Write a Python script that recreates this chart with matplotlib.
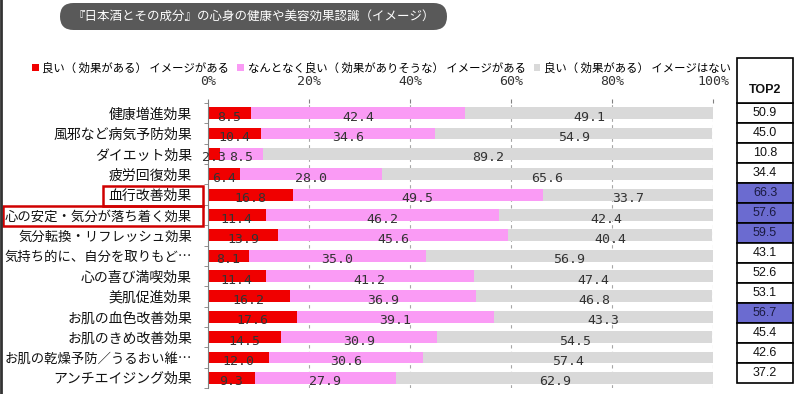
import matplotlib
matplotlib.use('Agg')
import matplotlib.pyplot as plt
import numpy as np
from matplotlib.patches import Rectangle, FancyBboxPatch
from matplotlib.lines import Line2D
from matplotlib.transforms import IdentityTransform

plt.rcParams['font.family'] = ['Noto Sans CJK JP', 'DejaVu Sans']

# データ
labels = ['健康増進効果', '風邪など病気予防効果', 'ダイエット効果', '疲労回復効果',
          '血行改善効果', '心の安定・気分が落ち着く効果', '気分転換・リフレッシュ効果',
          '気持ち的に、自分を取りもど…', '心の喜び満喫効果', '美肌促進効果',
          'お肌の血色改善効果', 'お肌のきめ改善効果', 'お肌の乾燥予防／うるおい維…',
          'アンチエイジング効果']
good = [8.5, 10.4, 2.3, 6.4, 16.8, 11.4, 13.9, 8.1, 11.4, 16.2, 17.6, 14.5, 12.0, 9.3]
maybe = [42.4, 34.6, 8.5, 28.0, 49.5, 46.2, 45.6, 35.0, 41.2, 36.9, 39.1, 30.9, 30.6, 27.9]
none_ = [49.1, 54.9, 89.2, 65.6, 33.7, 42.4, 40.4, 56.9, 47.4, 46.8, 43.3, 54.5, 57.4, 62.9]
top2 = [50.9, 45.0, 10.8, 34.4, 66.3, 57.6, 59.5, 43.1, 52.6, 53.1, 56.7, 45.4, 42.6, 37.2]
top2_highlight = [4, 5, 6, 10]
boxed_labels = [4, 5]
series_names = ['良い（ 効果がある） イメージがある',
                'なんとなく良い（ 効果がありそうな） イメージがある',
                '良い（ 効果がある） イメージはない']
colors = ['#F00000', '#FA9BF5', '#D9D9D9']
title = '『日本酒とその成分』の心身の健康や美容効果認識（イメージ）'

W, H = 800, 394
fig = plt.figure(figsize=(W / 100, H / 100), dpi=100)

# メイングラフ
ax = fig.add_axes([208 / W, 1 - 388 / H, (713 - 208) / W, (388 - 103) / H])
y = np.arange(len(labels))
good = np.array(good)
maybe = np.array(maybe)
none_ = np.array(none_)

lefts = [np.zeros(len(y)), good, good + maybe]
handles = []
for vals, left, c, name in zip([good, maybe, none_], lefts, colors, series_names):
    b = ax.barh(y, vals, left=left, height=0.58, color=c, label=name, zorder=2)
    handles.append(b)
    for yi, v, l in zip(y, vals, left):
        ax.text(l + v / 2, yi + 0.2, f'{v:.1f}', ha='center', va='center',
                fontsize=9.5, family='DejaVu Sans Mono', color='#333333', zorder=3)

ax.set_xlim(0, 100)
ax.set_ylim(len(y) - 0.5, -0.5)
ax.xaxis.tick_top()
ax.set_xticks(range(0, 101, 20), [f'{v}%' for v in range(0, 101, 20)])
ax.tick_params(axis='x', length=3, pad=7.5, color='#808080', labelcolor='#333333')
for t in ax.get_xticklabels():
    t.set_family('DejaVu Sans Mono')
    t.set_fontsize(9.5)
ax.set_yticks(y, labels)
ax.set_yticks(np.arange(len(y) + 1) - 0.5, minor=True)
ax.tick_params(axis='y', which='major', length=0, pad=11.5, labelsize=10, labelcolor='#111111')
ax.tick_params(axis='y', which='minor', length=3, color='#808080')
for i, t in enumerate(ax.get_yticklabels()):
    if len(labels[i]) >= 13:
        t.set_fontsize(9.6)
for s in ['top', 'right', 'bottom']:
    ax.spines[s].set_visible(False)
ax.spines['left'].set_color('#808080')
ax.grid(axis='x', linestyle=(0, (3, 3)), color='#A6A6A6', lw=0.8, zorder=0)
ax.set_axisbelow(True)

# 凡例
fig.legend(handles=handles, loc='center', bbox_to_anchor=((35 + 728) / 2 / W, 1 - 68 / H),
           ncol=3, frameon=False, fontsize=8.2, handlelength=0.6, handleheight=0.6,
           handletextpad=0.3, columnspacing=0.7, borderpad=0, borderaxespad=0)

# TOP2 表
tax = fig.add_axes([737 / W, 1 - 383 / H, 56 / W, 280 / H])
tax.set_xlim(0, 1)
tax.set_ylim(len(y) - 0.5, -0.5)
tax.axis('off')
for i, v in enumerate(top2):
    hl = i in top2_highlight
    tax.add_patch(Rectangle((0, i - 0.5), 1, 1, fc='#6B6BD0' if hl else 'white',
                            ec='black', lw=1.2, clip_on=False))
    tax.text(0.5, i + 0.02, f'{v:.1f}', ha='center', va='center', fontsize=9,
             family='Liberation Sans', color='#1A1A40' if hl else '#111111')
tax.add_patch(Rectangle((0, 1), 1, 45 / 280, transform=tax.transAxes, fc='white',
                        ec='black', lw=1.2, clip_on=False))
tax.text(0.5, 1 + 13 / 280, 'TOP2', transform=tax.transAxes, ha='center', va='center',
         fontsize=9, family='Liberation Sans', fontweight='bold', color='#111111')

# タイトル
fig.patches.append(FancyBboxPatch((60, H - 30), 387, 27,
                                  boxstyle='round,pad=0,rounding_size=13.5',
                                  fc='#595959', ec='none', transform=IdentityTransform()))
fig.text((60 + 447) / 2 / W, 1 - 16.5 / H, title, ha='center', va='center',
         color='white', fontsize=9)

fig.add_artist(Line2D([1 / W, 1 / W], [0, 1], color='#333333', lw=2,
                      transform=fig.transFigure))

# 赤枠
fig.canvas.draw()
r = fig.canvas.get_renderer()
tls = ax.get_yticklabels()
for i in boxed_labels:
    bb = tls[i].get_window_extent(r)
    x0 = max(bb.x0 - 6, 3)
    x1 = 203
    fig.patches.append(Rectangle((x0, bb.y0 - 3), x1 - x0, bb.height + 6, fc='none',
                                 ec='#D00000', lw=1.8, transform=IdentityTransform()))

fig.savefig('out.png', dpi=100)
